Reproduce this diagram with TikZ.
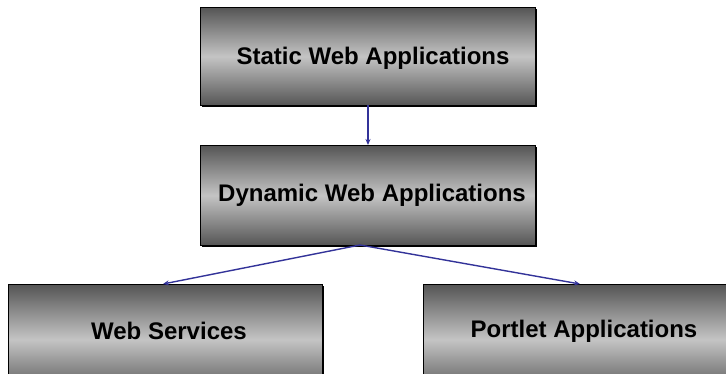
\documentclass[tikz,border=0pt]{standalone}
\usepackage{fontspec}
\setmainfont{Liberation Sans}
\usetikzlibrary{arrows.meta,shadows}
\definecolor{darkg}{HTML}{555555}
\definecolor{lightg}{HTML}{C4C4C4}
\definecolor{linkblue}{HTML}{333399}
\tikzset{
  appbox/.style={rectangle, draw=black, line width=0.8pt, top color=darkg, bottom color=darkg, middle color=lightg,
    inner sep=0pt,
    drop shadow={shadow xshift=1.5pt, shadow yshift=-1.5pt, fill=black, opacity=1}},
  apptext/.style={font=\bfseries\fontsize{24}{28}\selectfont, inner sep=0pt},
  link/.style={draw=linkblue, line width=1.4pt, -{Stealth[length=6pt,width=5pt]}}
}
\begin{document}
\begin{tikzpicture}[x=1pt,y=-1pt]
\useasboundingbox (0,0) rectangle (726,374);
\node[appbox, minimum width=335pt, minimum height=98pt, anchor=north west] (static) at (200,7) {};
\node[apptext] (statict) at (373,58) {Static Web Applications};
\node[appbox, minimum width=335pt, minimum height=100pt, anchor=north west] (dynamic) at (200,145) {};
\node[apptext] (dynamict) at (372,195) {Dynamic Web Applications};
\node[appbox, minimum width=314pt, minimum height=110pt, anchor=north west] (ws) at (8,284) {};
\node[apptext] (wst) at (169,331) {Web Services};
\node[appbox, minimum width=320pt, minimum height=110pt, anchor=north west] (pa) at (423,284) {};
\node[apptext] (pat) at (584,331) {Portlet Applications};
\coordinate (sbot) at (368,105);
\coordinate (dtop) at (368,145);
\coordinate (dbot) at (360,245);
\coordinate (wstop) at (163,284);
\coordinate (patop) at (580,284);
\draw[link] (sbot) -- (dtop);
\draw[link] (dbot) -- (wstop);
\draw[link] (dbot) -- (patop);
\end{tikzpicture}
\end{document}
